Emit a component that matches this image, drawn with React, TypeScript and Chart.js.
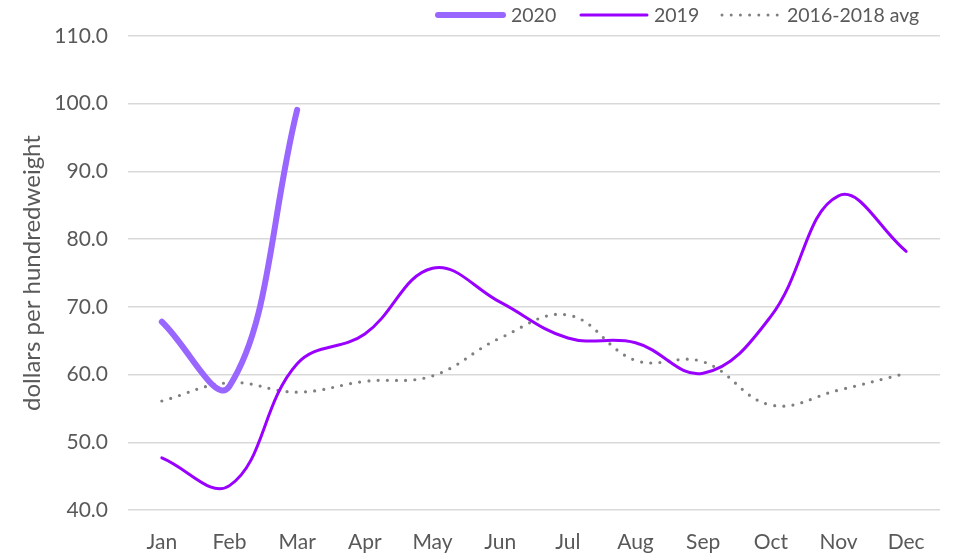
import React, { useEffect, useRef } from "react";
import { Chart, registerables } from "chart.js";

Chart.register(...registerables);

const categories = ["Jan", "Feb", "Mar", "Apr", "May", "Jun", "Jul", "Aug", "Sep", "Oct", "Nov", "Dec"];
const values2020 = [67.8, 58.3, 99.1, null, null, null, null, null, null, null, null, null];
const values2019 = [47.7, 43.6, 61.6, 66.0, 75.7, 70.7, 65.4, 64.7, 60.2, 68.6, 86.4, 78.2];
const valuesAvg = [56.1, 58.8, 57.4, 59.0, 59.8, 65.4, 68.8, 62.1, 61.9, 55.5, 57.7, 60.2];
const seriesNames = ["2020", "2019", "2016-2018 avg"];

const FONT = "Lato, 'Liberation Sans', sans-serif";
const TEXT = "#595959";

const legendPlugin = {
  id: "customLegend",
  afterDraw(chart: any) {
    const ctx = chart.ctx;
    const y = 15;
    ctx.save();
    ctx.font = `19.5px ${FONT}`;
    ctx.fillStyle = TEXT;
    ctx.textBaseline = "middle";
    ctx.lineCap = "round";
    ctx.strokeStyle = "#9966FF";
    ctx.lineWidth = 6;
    ctx.setLineDash([]);
    ctx.beginPath(); ctx.moveTo(438, y); ctx.lineTo(503, y); ctx.stroke();
    ctx.fillText(seriesNames[0], 511, y + 1);
    ctx.strokeStyle = "#9900FF";
    ctx.lineWidth = 3;
    ctx.beginPath(); ctx.moveTo(581, y); ctx.lineTo(647, y); ctx.stroke();
    ctx.fillText(seriesNames[1], 654, y + 1);
    ctx.strokeStyle = "#808080";
    ctx.lineWidth = 3;
    ctx.setLineDash([0, 9.2]);
    ctx.beginPath(); ctx.moveTo(722, y); ctx.lineTo(778, y); ctx.stroke();
    ctx.setLineDash([]);
    ctx.fillText(seriesNames[2], 787, y + 1);
    ctx.restore();
  },
};

export default function App() {
  const ref = useRef<HTMLCanvasElement>(null);
  useEffect(() => {
    document.body.style.margin = "0";
    const chart = new Chart(ref.current!, {
      type: "line",
      data: {
        labels: categories,
        datasets: [
          {
            label: seriesNames[0],
            data: values2020,
            borderColor: "#9966FF",
            borderWidth: 6,
            borderCapStyle: "round",
            tension: 0.4,
            pointRadius: 0,
            spanGaps: false,
          },
          {
            label: seriesNames[1],
            data: values2019,
            borderColor: "#9900FF",
            borderWidth: 3,
            borderCapStyle: "round",
            tension: 0.4,
            pointRadius: 0,
          },
          {
            label: seriesNames[2],
            data: valuesAvg,
            borderColor: "#808080",
            borderWidth: 3.2,
            borderCapStyle: "round",
            borderDash: [0, 9.2],
            tension: 0.4,
            pointRadius: 0,
          },
        ],
      },
      options: {
        animation: false,
        responsive: false,
        layout: { padding: { top: 36, right: 19, left: 0, bottom: 0 } },
        plugins: { legend: { display: false }, tooltip: { enabled: false } },
        scales: {
          x: {
            offset: true,
            grid: { display: false },
            border: { display: false },
            ticks: { color: TEXT, font: { family: FONT, size: 21 }, padding: 12, maxRotation: 0 },
            afterFit: (s: any) => { s.height = 46; },
          },
          y: {
            min: 40,
            max: 110,
            ticks: {
              stepSize: 10,
              color: TEXT,
              font: { family: FONT, size: 21 },
              padding: 20,
              callback: (v: any) => Number(v).toFixed(1),
            },
            grid: { color: "#d9d9d9", lineWidth: 1.5, drawTicks: false },
            border: { display: false },
            title: {
              display: true,
              text: "dollars per hundredweight",
              color: TEXT,
              font: { family: FONT, size: 24 },
              padding: { top: 18, bottom: 0 },
            },
            afterFit: (s: any) => { s.width = 128; },
          },
        },
      },
      plugins: [legendPlugin],
    });
    return () => chart.destroy();
  }, []);
  return (
    <div style={{ width: 959, height: 556 }}>
      <canvas ref={ref} width={959} height={556} style={{ width: 959, height: 556, display: "block" }} />
    </div>
  );
}
